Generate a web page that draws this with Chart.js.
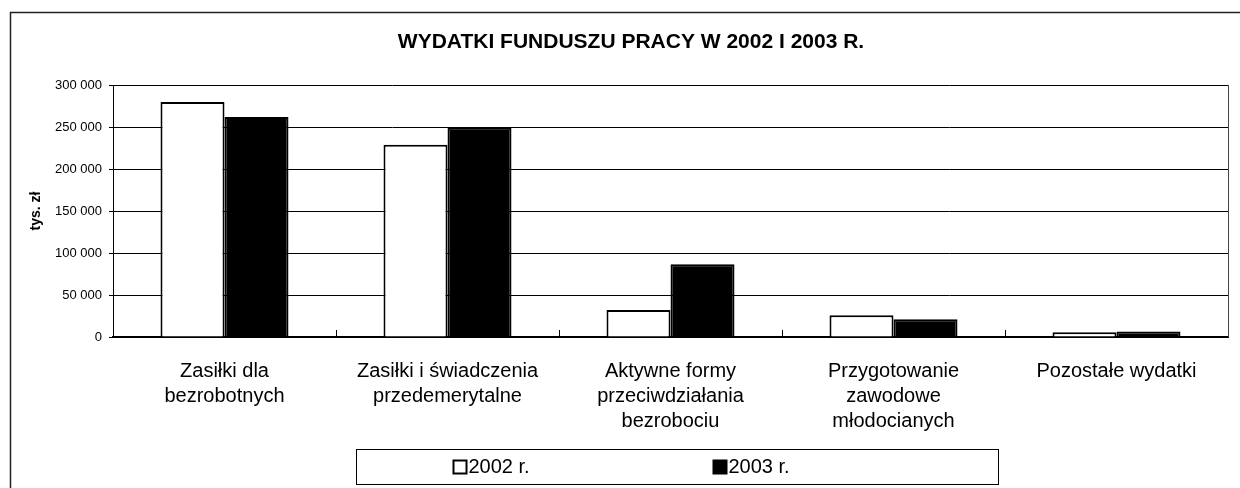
<!DOCTYPE html>
<html lang="pl">
<head>
<meta charset="utf-8">
<title>Wydatki Funduszu Pracy</title>
<script src="https://cdn.jsdelivr.net/npm/chart.js@4.4.1/dist/chart.umd.min.js"></script>
<style>
  html, body { margin: 0; padding: 0; background: #fff; }
  #wrap { width: 1240px; height: 488px; position: relative; }
</style>
</head>
<body>
<div id="wrap"><canvas id="fpChart"></canvas></div>
<script>
// ---- data (tys. zł) ----
const categories = [
    ['Zasiłki dla', 'bezrobotnych'],
    ['Zasiłki i świadczenia', 'przedemerytalne'],
    ['Aktywne formy', 'przeciwdziałania', 'bezrobociu'],
    ['Przygotowanie', 'zawodowe', 'młodocianych'],
    ['Pozostałe wydatki']
];
const seriesLabels = ['2002 r.', '2003 r.'];
const values2002 = [279800, 229000, 32000, 26000, 5800];
const values2003 = [262000, 249000, 86500, 21000, 6600];
const yTicks = [0, 50000, 100000, 150000, 200000, 250000, 300000];

const FONT = '"Liberation Sans", Arial, sans-serif';
Chart.defaults.font.family = FONT;
Chart.defaults.color = '#000';

const fmt = v => String(v).replace(/\B(?=(\d{3})+(?!\d))/g, ' ');

// frame, inner category ticks, plot border and legend box
const decorPlugin = {
    id: 'decor',
    beforeDraw(chart) {
        const c = chart.ctx;
        c.save();
        c.fillStyle = '#fff';
        c.fillRect(0, 0, chart.width, chart.height);
        c.strokeStyle = '#222';
        c.lineWidth = 1.5;
        c.beginPath();
        c.moveTo(10.5, chart.height);
        c.lineTo(10.5, 12.5);
        c.lineTo(chart.width, 12.5);
        c.stroke();
        c.restore();
    },
    afterDatasetsDraw(chart) {
        const c = chart.ctx;
        const a = chart.chartArea;
        const xs = chart.scales.x;
        c.save();
        c.strokeStyle = '#000';
        c.lineWidth = 1;
        // short upward ticks between categories
        for (let i = 1; i < categories.length; i++) {
            const px = Math.round((xs.getPixelForValue(i - 1) + xs.getPixelForValue(i)) / 2) + 0.5;
            c.beginPath();
            c.moveTo(px, a.bottom);
            c.lineTo(px, a.bottom - 7);
            c.stroke();
        }
        // right border of plot
        c.strokeStyle = '#444';
        c.beginPath();
        c.moveTo(a.right + 0.5, a.top);
        c.lineTo(a.right + 0.5, a.bottom);
        c.stroke();
        c.restore();
    },
    afterDraw(chart) {
        const c = chart.ctx;
        const a = chart.chartArea;
        const cx = (a.left + a.right) / 2 + 6;
        const top = 449, h = 35, w = 642;
        c.save();
        c.strokeStyle = '#000';
        c.lineWidth = 1;
        c.strokeRect(Math.round(cx - w / 2) + 0.5, top + 0.5, w, h);
        c.font = '20px ' + FONT;
        c.textBaseline = 'middle';
        c.fillStyle = '#000';
        const midY = top + h / 2 + 1;
        chart.data.datasets.forEach((ds, i) => {
            const x0 = cx - 223 + i * 260;
            c.lineWidth = 2;
            c.strokeStyle = '#000';
            c.fillStyle = ds.backgroundColor;
            c.fillRect(x0, midY - 7, 13, 13);
            c.strokeRect(x0, midY - 7, 13, 13);
            c.fillStyle = '#000';
            c.fillText(ds.label, x0 + 15, midY);
        });
        c.restore();
    }
};

new Chart(document.getElementById('fpChart'), {
    type: 'bar',
    data: {
        labels: categories,
        datasets: [
            {
                label: seriesLabels[0],
                data: values2002,
                backgroundColor: '#fff',
                borderColor: '#000',
                borderWidth: 2
            },
            {
                label: seriesLabels[1],
                data: values2003,
                backgroundColor: '#000',
                borderColor: '#000',
                borderWidth: 2
            }
        ]
    },
    options: {
        responsive: true,
        maintainAspectRatio: false,
        animation: false,
        datasets: { bar: { categoryPercentage: 0.574, barPercentage: 1 } },
        layout: { padding: { left: 34, right: 12, top: 0, bottom: 40 } },
        plugins: {
            legend: { display: false },
            tooltip: { enabled: false },
            title: {
                display: true,
                text: 'WYDATKI FUNDUSZU PRACY W 2002 I 2003 R.',
                color: '#000',
                font: { size: 21, weight: 'bold', family: FONT, lineHeight: 1.2 },
                padding: { top: 29.5, bottom: 30.3 }
            }
        },
        scales: {
            x: {
                grid: { display: false, drawTicks: false },
                border: { display: true, color: '#000', width: 2 },
                ticks: {
                    color: '#000',
                    font: { size: 20, lineHeight: 1.25 },
                    maxRotation: 0,
                    autoSkip: false,
                    padding: 22
                },
                afterFit(scale) { scale.height = 111; }
            },
            y: {
                min: 0,
                max: 300000,
                afterBuildTicks(scale) { scale.ticks = yTicks.map(v => ({ value: v })); },
                grid: { color: '#000', lineWidth: 1, tickLength: 4, tickColor: '#000' },
                border: { display: true, color: '#000', width: 1 },
                ticks: {
                    color: '#000',
                    font: { size: 13 },
                    padding: 7,
                    callback: v => fmt(v)
                },
                title: {
                    display: true,
                    text: 'tys. zł',
                    color: '#000',
                    font: { size: 14, weight: 'bold' },
                    padding: { top: -6, bottom: 0 }
                },
                afterFit(scale) { scale.width = 79; }
            }
        }
    },
    plugins: [decorPlugin]
});
</script>
</body>
</html>
